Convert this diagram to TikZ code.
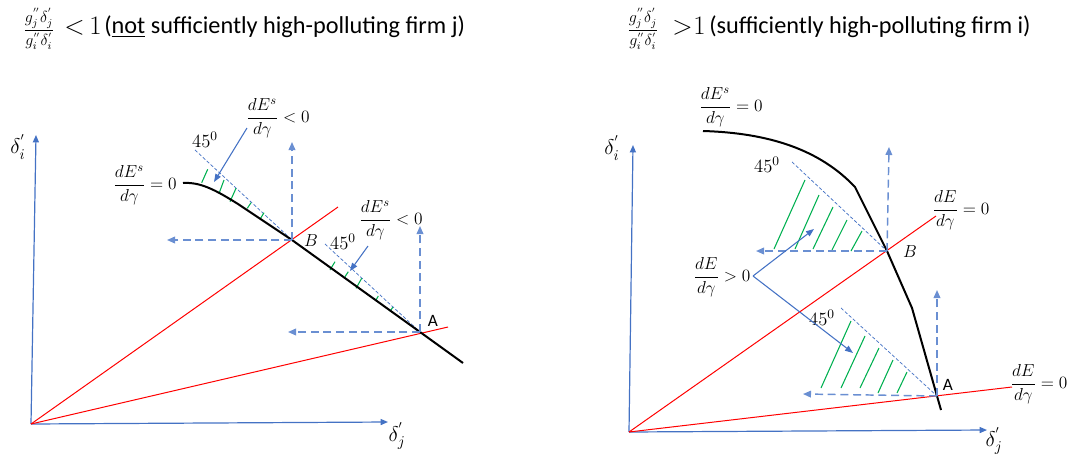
\RequirePackage{fix-cm}
\documentclass[tikz,border=0pt]{standalone}
\usepackage{amsmath}
\usepackage[no-math]{fontspec}
\setmainfont{Carlito}
\usetikzlibrary{arrows.meta}
\definecolor{axblue}{HTML}{4472C4}
\definecolor{dblue}{HTML}{6A8FD2}
\definecolor{hgreen}{HTML}{00B050}
\definecolor{rline}{HTML}{FF0000}
\begin{document}
\begin{tikzpicture}[x=0.75pt,y=-0.75pt,
  axis/.style={draw=axblue, line width=0.9pt, -{Triangle[width=4.5pt,length=5.5pt]}},
  dasharr/.style={draw=dblue, line width=1.1pt, dash pattern=on 6pt off 3.5pt, -{Triangle[width=5pt,length=6pt]}},
  redline/.style={draw=rline, line width=0.75pt},
  curveline/.style={draw=black, line width=1.5pt},
  fortyfive/.style={draw=axblue, line width=0.55pt, dash pattern=on 2.5pt off 1.5pt},
  hatch/.style={draw=hgreen, line width=0.8pt},
  lblarr/.style={draw=axblue, line width=0.8pt, -{Triangle[width=4.5pt,length=6pt]}},
  mlab/.style={inner sep=0pt, font=\fontsize{13}{15}\selectfont},
  deg/.style={inner sep=0pt, font=\fontsize{14}{16}\selectfont},
  axlab/.style={inner sep=0pt, font=\fontsize{16}{18}\selectfont},
  ptlab/.style={inner sep=0pt, font=\fontsize{13}{15}\selectfont},
  ttl/.style={inner sep=0pt, font=\fontsize{18.2}{20}\selectfont},
  ttlm/.style={inner sep=0pt, font=\fontsize{20}{22}\selectfont},
  ttlf/.style={inner sep=0pt, font=\fontsize{12}{13}\selectfont}
]
\useasboundingbox (0,0) rectangle (1068,454);

% ---------------- titles ----------------
\node[ttlf] (f1) at (39,29) {$\dfrac{g_j^{''}\delta_j^{'}}{g_i^{''}\delta_i^{'}}$};
\node[ttlm, anchor=base west] (c1) at (64,34) {$<$};
\node[ttlm, anchor=base west] (n1) at (89,34) {$1$};
\node[ttl, anchor=base west] (t1) at (104,33) {(\underline{not} sufficiently high-polluting firm j)};
\node[ttlf] (f2) at (643,29) {$\dfrac{g_j^{''}\delta_j^{'}}{g_i^{''}\delta_i^{'}}$};
\node[ttlm, anchor=base west] (c2) at (672,34) {$>$};
\node[ttlm, anchor=base west] (n2) at (693,34) {$1$};
\node[ttl, anchor=base west] (t2) at (709,33) {(sufficiently high-polluting firm i)};

% ---------------- left panel ----------------
\coordinate (O1) at (31,424);
\coordinate (Y1) at (36,135);
\coordinate (X1) at (388,422);
\coordinate (B1) at (292,240);
\coordinate (A1) at (420,332);
\coordinate (R1a) at (338,207);
\coordinate (R1b) at (448,327);
\coordinate (C1s) at (183,183);
\coordinate (C1k) at (238,204);
\coordinate (C1e) at (463,363);
\coordinate (B1u) at (292,142);
\coordinate (B1l) at (167,240);
\coordinate (A1u) at (420,226);
\coordinate (A1l) at (288,332);
\coordinate (F1a) at (195,150);
\coordinate (F1b) at (325,244);

\draw[axis] (O1) -- (Y1);
\draw[axis] (O1) -- (X1);
\draw[redline] (O1) -- (R1a);
\draw[redline] (O1) -- (R1b);
\draw[fortyfive] (F1a) -- (B1);
\draw[fortyfive] (F1b) -- (A1);
\draw[hatch] (201.7,182.7) -- (207.7,169.3);
\draw[hatch] (219.3,192.7) -- (224,180);
\draw[hatch] (230,201.7) -- (236,188.3);
\draw[hatch] (247.3,208.3) -- (251,202.7);
\draw[hatch] (260,219.3) -- (264,212.7);
\draw[hatch] (330,270) -- (335,261.7);
\draw[hatch] (345,276.7) -- (348.3,271.7);
\draw[hatch] (356,288.3) -- (361.7,278.3);
\draw[hatch] (376,300) -- (378.3,296);
\draw[hatch] (390,311.7) -- (392.7,307.3);
\draw[curveline] (C1s) .. controls (200,182) and (214,189) .. (C1k) -- (B1) -- (A1) -- (C1e);
\draw[dasharr] (B1) -- (B1u);
\draw[dasharr] (B1) -- (B1l);
\draw[dasharr] (A1) -- (A1u);
\draw[dasharr] (A1) -- (A1l);

\node[axlab] (di1) at (18,147) {$\delta_i^{'}$};
\node[axlab] (dj1) at (397,436) {$\delta_j^{'}$};
\node[mlab] (eq1) at (145,185) {$\dfrac{dE^s}{d\gamma}=0$};
\node[mlab] (lt1) at (278,118) {$\dfrac{dE^s}{d\gamma}<0$};
\node[mlab] (lt2) at (391,220) {$\dfrac{dE^s}{d\gamma}<0$};
\node[deg] (g1) at (205,140) {$45^0$};
\node[deg] (g2) at (343,242) {$45^0$};
\node[ptlab] (lB1) at (311,241) {$B$};
\node[ptlab] (lA1) at (433,321) {A};
\coordinate (lt1s) at (247,128);
\coordinate (lt1e) at (214,182);
\coordinate (lt2s) at (368,246);
\coordinate (lt2e) at (350,271);
\draw[lblarr] (lt1s) -- (lt1e);
\draw[lblarr] (lt2s) -- (lt2e);

% ---------------- right panel ----------------
\coordinate (O2) at (629,432);
\coordinate (Y2) at (633,145);
\coordinate (X2) at (987,430);
\coordinate (B2) at (887,251);
\coordinate (A2) at (937,396);
\coordinate (R2a) at (936,216);
\coordinate (R2b) at (1012,387);
\coordinate (C2s) at (703,131);
\coordinate (C2k) at (855,187);
\coordinate (C2m) at (912,308);
\coordinate (C2e) at (941,410);
\coordinate (B2u) at (889,147);
\coordinate (B2l) at (756,251);
\coordinate (A2u) at (937,290);
\coordinate (A2l) at (803,394);
\coordinate (F2a) at (792,162);
\coordinate (F2b) at (841,308);

\draw[axis] (O2) -- (Y2);
\draw[axis] (O2) -- (X2);
\draw[redline] (O2) -- (R2a);
\draw[redline] (O2) -- (R2b);
\draw[fortyfive] (F2a) -- (B2);
\draw[fortyfive] (F2b) -- (A2);
\draw[hatch] (774,249) -- (805,180);
\draw[hatch] (795,249) -- (819,195);
\draw[hatch] (813,249) -- (833,207);
\draw[hatch] (832,250) -- (847,220);
\draw[hatch] (851,251) -- (862,231);
\draw[hatch] (821,388) -- (851,321);
\draw[hatch] (841,388) -- (865,336);
\draw[hatch] (860,388) -- (879,348);
\draw[hatch] (878,393) -- (893,360);
\draw[hatch] (897,393) -- (907,372);
\draw[curveline] (C2s) .. controls (770,133) and (820,150) .. (C2k) -- (B2) -- (C2m) -- (A2) -- (C2e);
\draw[dasharr] (B2) -- (B2u);
\draw[dasharr] (B2) -- (B2l);
\draw[dasharr] (A2) -- (A2u);
\draw[dasharr] (A2) -- (A2l);

\node[axlab] (di2) at (612,148) {$\delta_i^{'}$};
\node[axlab] (dj2) at (994,441) {$\delta_j^{'}$};
\node[mlab] (eq2) at (731,107) {$\dfrac{dE^s}{d\gamma}=0$};
\node[mlab] (eq3) at (961,210) {$\dfrac{dE}{d\gamma}=0$};
\node[mlab] (eq4) at (1039,384) {$\dfrac{dE}{d\gamma}=0$};
\node[mlab] (gt1) at (722,277) {$\dfrac{dE}{d\gamma}>0$};
\node[deg] (g3) at (767,165) {$45^0$};
\node[deg] (g4) at (822,318) {$45^0$};
\node[ptlab] (lB2) at (910,252) {$B$};
\node[ptlab] (lA2) at (948,385) {A};
\coordinate (gts) at (753,276);
\coordinate (gte1) at (814,229);
\coordinate (gte2) at (853,353);
\draw[lblarr] (gts) -- (gte1);
\draw[lblarr] (gts) -- (gte2);
\end{tikzpicture}
\end{document}
